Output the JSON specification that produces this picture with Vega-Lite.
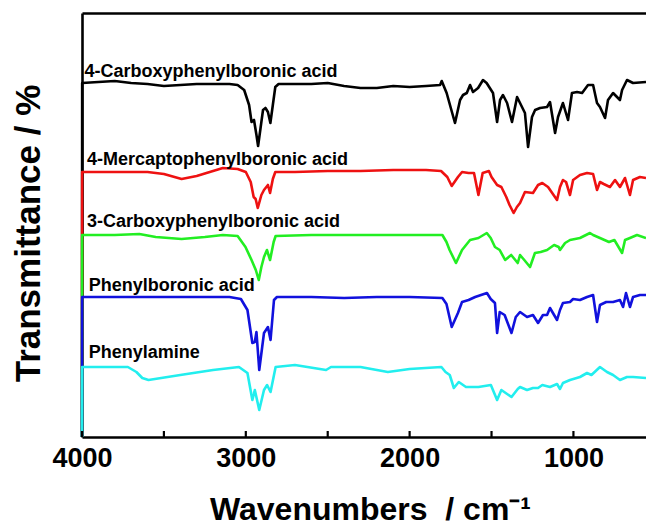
{
  "$schema": "https://vega.github.io/schema/vega-lite/v6.json",
  "width": 564,
  "height": 424,
  "autosize": {"type": "none"},
  "padding": {"left": 82, "top": 13, "right": 0, "bottom": 88},
  "background": "white",
  "config": {"view": {"stroke": null}, "font": "Liberation Sans"},
  "datasets": {
    "ticks": [{"wn": 4000}, {"wn": 3500}, {"wn": 3000}, {"wn": 2500}, {"wn": 2000}, {"wn": 1500}, {"wn": 1000}],
    "labels": [
      {"label": "4-Carboxyphenylboronic acid", "wn": 3985, "t": 360},
      {"label": "4-Mercaptophenylboronic acid", "wn": 3970, "t": 272},
      {"label": "3-Carboxyphenylboronic acid", "wn": 3970, "t": 210},
      {"label": "Phenylboronic acid", "wn": 3959, "t": 146.5},
      {"label": "Phenylamine", "wn": 3959, "t": 79}
    ],
    "spectra": [
      {"s":"4-CPBA","wn":4000,"t":0},{"s":"4-CPBA","wn":3999,"t":354},{"s":"4-CPBA","wn":3900,"t":355},{"s":"4-CPBA","wn":3800,"t":356},{"s":"4-CPBA","wn":3700,"t":354},{"s":"4-CPBA","wn":3600,"t":353},{"s":"4-CPBA","wn":3500,"t":351},{"s":"4-CPBA","wn":3400,"t":352},{"s":"4-CPBA","wn":3300,"t":353},{"s":"4-CPBA","wn":3200,"t":353},{"s":"4-CPBA","wn":3100,"t":353},{"s":"4-CPBA","wn":3050,"t":352},{"s":"4-CPBA","wn":3010,"t":347},{"s":"4-CPBA","wn":2980,"t":332},{"s":"4-CPBA","wn":2965,"t":315},{"s":"4-CPBA","wn":2950,"t":317},{"s":"4-CPBA","wn":2935,"t":302},{"s":"4-CPBA","wn":2925,"t":291},{"s":"4-CPBA","wn":2910,"t":309},{"s":"4-CPBA","wn":2895,"t":327},{"s":"4-CPBA","wn":2880,"t":329},{"s":"4-CPBA","wn":2865,"t":325},{"s":"4-CPBA","wn":2850,"t":314},{"s":"4-CPBA","wn":2835,"t":332},{"s":"4-CPBA","wn":2820,"t":350},{"s":"4-CPBA","wn":2800,"t":353},{"s":"4-CPBA","wn":2700,"t":353},{"s":"4-CPBA","wn":2600,"t":353},{"s":"4-CPBA","wn":2500,"t":354},{"s":"4-CPBA","wn":2400,"t":351},{"s":"4-CPBA","wn":2300,"t":349},{"s":"4-CPBA","wn":2200,"t":349},{"s":"4-CPBA","wn":2100,"t":351},{"s":"4-CPBA","wn":2000,"t":350},{"s":"4-CPBA","wn":1900,"t":351},{"s":"4-CPBA","wn":1814,"t":352},{"s":"4-CPBA","wn":1804,"t":356},{"s":"4-CPBA","wn":1774,"t":344},{"s":"4-CPBA","wn":1723,"t":314},{"s":"4-CPBA","wn":1692,"t":337},{"s":"4-CPBA","wn":1674,"t":342},{"s":"4-CPBA","wn":1651,"t":344},{"s":"4-CPBA","wn":1631,"t":352},{"s":"4-CPBA","wn":1613,"t":345},{"s":"4-CPBA","wn":1582,"t":349},{"s":"4-CPBA","wn":1552,"t":357},{"s":"4-CPBA","wn":1530,"t":354},{"s":"4-CPBA","wn":1491,"t":344},{"s":"4-CPBA","wn":1466,"t":315},{"s":"4-CPBA","wn":1448,"t":337},{"s":"4-CPBA","wn":1430,"t":342},{"s":"4-CPBA","wn":1405,"t":334},{"s":"4-CPBA","wn":1375,"t":315},{"s":"4-CPBA","wn":1344,"t":340},{"s":"4-CPBA","wn":1326,"t":334},{"s":"4-CPBA","wn":1296,"t":324},{"s":"4-CPBA","wn":1277,"t":290},{"s":"4-CPBA","wn":1253,"t":320},{"s":"4-CPBA","wn":1234,"t":327},{"s":"4-CPBA","wn":1204,"t":329},{"s":"4-CPBA","wn":1161,"t":330},{"s":"4-CPBA","wn":1143,"t":335},{"s":"4-CPBA","wn":1112,"t":304},{"s":"4-CPBA","wn":1094,"t":320},{"s":"4-CPBA","wn":1064,"t":334},{"s":"4-CPBA","wn":1033,"t":317},{"s":"4-CPBA","wn":1009,"t":344},{"s":"4-CPBA","wn":978,"t":345},{"s":"4-CPBA","wn":947,"t":344},{"s":"4-CPBA","wn":911,"t":352},{"s":"4-CPBA","wn":880,"t":352},{"s":"4-CPBA","wn":856,"t":334},{"s":"4-CPBA","wn":838,"t":330},{"s":"4-CPBA","wn":807,"t":319},{"s":"4-CPBA","wn":789,"t":337},{"s":"4-CPBA","wn":758,"t":344},{"s":"4-CPBA","wn":716,"t":337},{"s":"4-CPBA","wn":703,"t":347},{"s":"4-CPBA","wn":673,"t":357},{"s":"4-CPBA","wn":636,"t":354},{"s":"4-CPBA","wn":557,"t":355},
      {"s":"4-MPBA","wn":4000,"t":0},{"s":"4-MPBA","wn":3999,"t":265},{"s":"4-MPBA","wn":3800,"t":265},{"s":"4-MPBA","wn":3600,"t":265},{"s":"4-MPBA","wn":3500,"t":263},{"s":"4-MPBA","wn":3392,"t":258},{"s":"4-MPBA","wn":3300,"t":261},{"s":"4-MPBA","wn":3140,"t":269},{"s":"4-MPBA","wn":3050,"t":268},{"s":"4-MPBA","wn":3000,"t":265},{"s":"4-MPBA","wn":2970,"t":255},{"s":"4-MPBA","wn":2952,"t":240},{"s":"4-MPBA","wn":2940,"t":238},{"s":"4-MPBA","wn":2927,"t":229},{"s":"4-MPBA","wn":2905,"t":242},{"s":"4-MPBA","wn":2889,"t":247},{"s":"4-MPBA","wn":2865,"t":252},{"s":"4-MPBA","wn":2852,"t":244},{"s":"4-MPBA","wn":2835,"t":258},{"s":"4-MPBA","wn":2820,"t":265},{"s":"4-MPBA","wn":2700,"t":265},{"s":"4-MPBA","wn":2500,"t":266},{"s":"4-MPBA","wn":2300,"t":266},{"s":"4-MPBA","wn":2100,"t":267},{"s":"4-MPBA","wn":1900,"t":267},{"s":"4-MPBA","wn":1808,"t":266},{"s":"4-MPBA","wn":1770,"t":260},{"s":"4-MPBA","wn":1743,"t":251},{"s":"4-MPBA","wn":1705,"t":260},{"s":"4-MPBA","wn":1680,"t":265},{"s":"4-MPBA","wn":1640,"t":264},{"s":"4-MPBA","wn":1607,"t":264},{"s":"4-MPBA","wn":1580,"t":242},{"s":"4-MPBA","wn":1554,"t":264},{"s":"4-MPBA","wn":1516,"t":266},{"s":"4-MPBA","wn":1500,"t":260},{"s":"4-MPBA","wn":1466,"t":252},{"s":"4-MPBA","wn":1440,"t":250},{"s":"4-MPBA","wn":1410,"t":240},{"s":"4-MPBA","wn":1390,"t":232},{"s":"4-MPBA","wn":1365,"t":224},{"s":"4-MPBA","wn":1345,"t":230},{"s":"4-MPBA","wn":1326,"t":234},{"s":"4-MPBA","wn":1296,"t":245},{"s":"4-MPBA","wn":1247,"t":244},{"s":"4-MPBA","wn":1216,"t":252},{"s":"4-MPBA","wn":1190,"t":254},{"s":"4-MPBA","wn":1155,"t":250},{"s":"4-MPBA","wn":1100,"t":237},{"s":"4-MPBA","wn":1082,"t":250},{"s":"4-MPBA","wn":1064,"t":257},{"s":"4-MPBA","wn":1045,"t":255},{"s":"4-MPBA","wn":1021,"t":242},{"s":"4-MPBA","wn":1002,"t":257},{"s":"4-MPBA","wn":960,"t":262},{"s":"4-MPBA","wn":917,"t":264},{"s":"4-MPBA","wn":880,"t":263},{"s":"4-MPBA","wn":856,"t":247},{"s":"4-MPBA","wn":838,"t":255},{"s":"4-MPBA","wn":815,"t":253},{"s":"4-MPBA","wn":777,"t":250},{"s":"4-MPBA","wn":746,"t":257},{"s":"4-MPBA","wn":716,"t":250},{"s":"4-MPBA","wn":685,"t":259},{"s":"4-MPBA","wn":655,"t":242},{"s":"4-MPBA","wn":636,"t":257},{"s":"4-MPBA","wn":594,"t":260},{"s":"4-MPBA","wn":557,"t":259},
      {"s":"3-CPBA","wn":4000,"t":0},{"s":"3-CPBA","wn":3999,"t":202},{"s":"3-CPBA","wn":3800,"t":202},{"s":"3-CPBA","wn":3650,"t":203},{"s":"3-CPBA","wn":3550,"t":200},{"s":"3-CPBA","wn":3392,"t":198},{"s":"3-CPBA","wn":3250,"t":200},{"s":"3-CPBA","wn":3140,"t":202},{"s":"3-CPBA","wn":3050,"t":201},{"s":"3-CPBA","wn":3002,"t":190},{"s":"3-CPBA","wn":2965,"t":177},{"s":"3-CPBA","wn":2939,"t":167},{"s":"3-CPBA","wn":2921,"t":157},{"s":"3-CPBA","wn":2905,"t":170},{"s":"3-CPBA","wn":2889,"t":180},{"s":"3-CPBA","wn":2871,"t":187},{"s":"3-CPBA","wn":2852,"t":177},{"s":"3-CPBA","wn":2830,"t":195},{"s":"3-CPBA","wn":2818,"t":201},{"s":"3-CPBA","wn":2600,"t":202},{"s":"3-CPBA","wn":2400,"t":202},{"s":"3-CPBA","wn":2200,"t":202},{"s":"3-CPBA","wn":2000,"t":202},{"s":"3-CPBA","wn":1800,"t":202},{"s":"3-CPBA","wn":1775,"t":195},{"s":"3-CPBA","wn":1756,"t":187},{"s":"3-CPBA","wn":1717,"t":174},{"s":"3-CPBA","wn":1680,"t":187},{"s":"3-CPBA","wn":1631,"t":197},{"s":"3-CPBA","wn":1580,"t":199},{"s":"3-CPBA","wn":1529,"t":204},{"s":"3-CPBA","wn":1505,"t":199},{"s":"3-CPBA","wn":1479,"t":190},{"s":"3-CPBA","wn":1450,"t":187},{"s":"3-CPBA","wn":1417,"t":177},{"s":"3-CPBA","wn":1380,"t":182},{"s":"3-CPBA","wn":1340,"t":174},{"s":"3-CPBA","wn":1326,"t":182},{"s":"3-CPBA","wn":1300,"t":177},{"s":"3-CPBA","wn":1265,"t":170},{"s":"3-CPBA","wn":1235,"t":184},{"s":"3-CPBA","wn":1200,"t":185},{"s":"3-CPBA","wn":1161,"t":187},{"s":"3-CPBA","wn":1118,"t":192},{"s":"3-CPBA","wn":1090,"t":190},{"s":"3-CPBA","wn":1082,"t":187},{"s":"3-CPBA","wn":1051,"t":194},{"s":"3-CPBA","wn":1021,"t":197},{"s":"3-CPBA","wn":960,"t":199},{"s":"3-CPBA","wn":899,"t":204},{"s":"3-CPBA","wn":880,"t":202},{"s":"3-CPBA","wn":838,"t":199},{"s":"3-CPBA","wn":783,"t":195},{"s":"3-CPBA","wn":750,"t":197},{"s":"3-CPBA","wn":703,"t":184},{"s":"3-CPBA","wn":685,"t":197},{"s":"3-CPBA","wn":655,"t":199},{"s":"3-CPBA","wn":612,"t":202},{"s":"3-CPBA","wn":557,"t":199},
      {"s":"PBA","wn":4000,"t":0},{"s":"PBA","wn":3999,"t":140},{"s":"PBA","wn":3600,"t":140},{"s":"PBA","wn":3200,"t":140},{"s":"PBA","wn":3100,"t":140},{"s":"PBA","wn":3030,"t":138},{"s":"PBA","wn":2990,"t":127},{"s":"PBA","wn":2960,"t":94},{"s":"PBA","wn":2945,"t":95},{"s":"PBA","wn":2935,"t":105},{"s":"PBA","wn":2918,"t":67},{"s":"PBA","wn":2900,"t":90},{"s":"PBA","wn":2889,"t":104},{"s":"PBA","wn":2865,"t":110},{"s":"PBA","wn":2849,"t":97},{"s":"PBA","wn":2828,"t":137},{"s":"PBA","wn":2810,"t":140},{"s":"PBA","wn":2600,"t":140},{"s":"PBA","wn":2400,"t":139},{"s":"PBA","wn":2200,"t":140},{"s":"PBA","wn":2000,"t":140},{"s":"PBA","wn":1800,"t":139},{"s":"PBA","wn":1775,"t":133},{"s":"PBA","wn":1743,"t":110},{"s":"PBA","wn":1705,"t":124},{"s":"PBA","wn":1680,"t":135},{"s":"PBA","wn":1640,"t":137},{"s":"PBA","wn":1600,"t":140},{"s":"PBA","wn":1528,"t":144},{"s":"PBA","wn":1505,"t":138},{"s":"PBA","wn":1479,"t":134},{"s":"PBA","wn":1466,"t":104},{"s":"PBA","wn":1450,"t":125},{"s":"PBA","wn":1420,"t":122},{"s":"PBA","wn":1378,"t":104},{"s":"PBA","wn":1352,"t":120},{"s":"PBA","wn":1326,"t":125},{"s":"PBA","wn":1283,"t":120},{"s":"PBA","wn":1247,"t":122},{"s":"PBA","wn":1216,"t":114},{"s":"PBA","wn":1186,"t":122},{"s":"PBA","wn":1161,"t":122},{"s":"PBA","wn":1143,"t":129},{"s":"PBA","wn":1100,"t":117},{"s":"PBA","wn":1082,"t":127},{"s":"PBA","wn":1064,"t":134},{"s":"PBA","wn":1021,"t":135},{"s":"PBA","wn":1002,"t":138},{"s":"PBA","wn":960,"t":137},{"s":"PBA","wn":917,"t":140},{"s":"PBA","wn":880,"t":142},{"s":"PBA","wn":856,"t":115},{"s":"PBA","wn":838,"t":132},{"s":"PBA","wn":800,"t":135},{"s":"PBA","wn":758,"t":135},{"s":"PBA","wn":716,"t":137},{"s":"PBA","wn":697,"t":130},{"s":"PBA","wn":679,"t":144},{"s":"PBA","wn":655,"t":130},{"s":"PBA","wn":636,"t":140},{"s":"PBA","wn":594,"t":142},{"s":"PBA","wn":557,"t":142},
      {"s":"PA","wn":4000,"t":0},{"s":"PA","wn":3999,"t":70},{"s":"PA","wn":3800,"t":70},{"s":"PA","wn":3720,"t":70},{"s":"PA","wn":3668,"t":65},{"s":"PA","wn":3632,"t":59},{"s":"PA","wn":3594,"t":57},{"s":"PA","wn":3400,"t":62},{"s":"PA","wn":3200,"t":67},{"s":"PA","wn":3042,"t":70},{"s":"PA","wn":2990,"t":64},{"s":"PA","wn":2960,"t":37},{"s":"PA","wn":2945,"t":47},{"s":"PA","wn":2918,"t":27},{"s":"PA","wn":2889,"t":47},{"s":"PA","wn":2870,"t":52},{"s":"PA","wn":2849,"t":45},{"s":"PA","wn":2818,"t":70},{"s":"PA","wn":2700,"t":72},{"s":"PA","wn":2510,"t":67},{"s":"PA","wn":2480,"t":70},{"s":"PA","wn":2300,"t":70},{"s":"PA","wn":2133,"t":65},{"s":"PA","wn":2000,"t":68},{"s":"PA","wn":1806,"t":70},{"s":"PA","wn":1781,"t":65},{"s":"PA","wn":1755,"t":62},{"s":"PA","wn":1730,"t":49},{"s":"PA","wn":1700,"t":55},{"s":"PA","wn":1656,"t":50},{"s":"PA","wn":1580,"t":50},{"s":"PA","wn":1504,"t":52},{"s":"PA","wn":1466,"t":37},{"s":"PA","wn":1440,"t":47},{"s":"PA","wn":1378,"t":40},{"s":"PA","wn":1340,"t":48},{"s":"PA","wn":1326,"t":50},{"s":"PA","wn":1283,"t":47},{"s":"PA","wn":1247,"t":49},{"s":"PA","wn":1216,"t":49},{"s":"PA","wn":1190,"t":52},{"s":"PA","wn":1143,"t":50},{"s":"PA","wn":1100,"t":53},{"s":"PA","wn":1082,"t":48},{"s":"PA","wn":1064,"t":54},{"s":"PA","wn":1021,"t":57},{"s":"PA","wn":960,"t":60},{"s":"PA","wn":917,"t":64},{"s":"PA","wn":890,"t":62},{"s":"PA","wn":838,"t":70},{"s":"PA","wn":795,"t":65},{"s":"PA","wn":758,"t":62},{"s":"PA","wn":716,"t":57},{"s":"PA","wn":673,"t":60},{"s":"PA","wn":636,"t":60},{"s":"PA","wn":557,"t":59}
    ]
  },
  "layer": [
    {
      "data": {"name": "spectra"},
      "mark": {"type": "line", "strokeWidth": 2.6, "strokeJoin": "round"},
      "encoding": {
        "x": {
          "field": "wn", "type": "quantitative",
          "scale": {"domain": [557, 4000], "reverse": true, "nice": false, "zero": false},
          "axis": {
            "orient": "bottom",
            "values": [4000, 3000, 2000, 1000],
            "format": "d",
            "labelFont": "Liberation Sans", "labelFontSize": 27, "labelFontWeight": "bold", "labelColor": "black",
            "labelPadding": 8, "labelFlush": false, "labelOverlap": false,
            "ticks": false,
            "domainWidth": 2.6, "domainColor": "black", "grid": false,
            "title": "Wavenumbers \u00a0/ cm\u207b\u00b9",
            "titleFont": "Liberation Sans", "titleFontSize": 32, "titleFontWeight": "bold", "titleColor": "black",
            "titlePadding": 23, "titleX": 288
          }
        },
        "y": {
          "field": "t", "type": "quantitative",
          "scale": {"domain": [0, 424], "nice": false, "zero": false},
          "axis": {
            "labels": false, "ticks": false, "grid": false,
            "domainWidth": 2.6, "domainColor": "black",
            "title": "Transmittance / %",
            "titleFont": "Liberation Sans", "titleFontSize": 35, "titleFontWeight": "bold", "titleColor": "black",
            "titlePadding": 36, "titleY": 220
          }
        },
        "color": {
          "field": "s", "type": "nominal",
          "scale": {"domain": ["4-CPBA", "4-MPBA", "3-CPBA", "PBA", "PA"], "range": ["#000000", "#ee1111", "#22ee22", "#1111dd", "#22eeee"]},
          "legend": null
        }
      }
    },
    {
      "data": {"name": "ticks"},
      "mark": {"type": "rule", "color": "black", "strokeWidth": 2.2},
      "encoding": {
        "x": {"field": "wn", "type": "quantitative", "axis": null},
        "y": {"datum": 0, "type": "quantitative"},
        "y2": {"datum": 6}
      }
    },
    {
      "data": {"name": "labels"},
      "mark": {"type": "text", "align": "left", "baseline": "alphabetic", "font": "Liberation Sans", "fontSize": 18, "fontWeight": "bold", "color": "black"},
      "encoding": {
        "x": {
          "field": "wn", "type": "quantitative",
          "axis": {"orient": "top", "labels": false, "ticks": false, "grid": false, "domain": true, "domainWidth": 2.6, "domainColor": "black", "title": null}
        },
        "y": {"field": "t", "type": "quantitative"},
        "text": {"field": "label"}
      }
    }
  ],
  "resolve": {"axis": {"x": "independent"}}
}
